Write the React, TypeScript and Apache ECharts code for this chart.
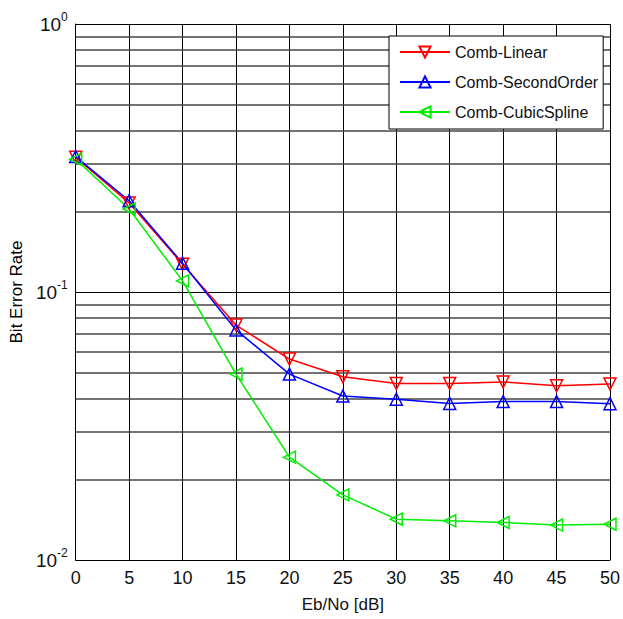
import React, { useEffect, useRef } from "react";
import * as echarts from "echarts";

const ebNo = [0, 5, 10, 15, 20, 25, 30, 35, 40, 45, 50];
const combLinear = [0.318, 0.215, 0.127, 0.0753, 0.0562, 0.0483, 0.0456, 0.0456, 0.0462, 0.0447, 0.0454];
const combSecondOrder = [0.32, 0.219, 0.128, 0.0722, 0.0494, 0.0409, 0.0398, 0.0384, 0.039, 0.039, 0.0383];
const combCubicSpline = [0.313, 0.204, 0.11, 0.0494, 0.0242, 0.0175, 0.0142, 0.014, 0.0138, 0.0135, 0.0136];
const minorGrid = [0.02, 0.03, 0.04, 0.05, 0.06, 0.07, 0.08, 0.09, 0.2, 0.3, 0.4, 0.5, 0.6, 0.7, 0.8, 0.9];

const FONT = "'Liberation Sans', Arial, sans-serif";

export default function App() {
  const ref = useRef<HTMLDivElement>(null);
  useEffect(() => {
    if (!ref.current) return;
    const chart = echarts.init(ref.current, null, { renderer: "svg" });
    const mk = (name: string, values: number[], color: string, rot: number) => ({
      name,
      type: "line",
      z: 5,
      data: ebNo.map((x, i) => [x, values[i]]),
      symbol: "triangle",
      symbolSize: 12,
      symbolRotate: rot,
      showAllSymbol: true,
      lineStyle: { color, width: 1.5 },
      itemStyle: { color: "rgba(255,255,255,0)", borderColor: color, borderWidth: 1.5 },
      emphasis: { disabled: true },
    });
    chart.setOption({
      animation: false,
      backgroundColor: "#fff",
      textStyle: { fontFamily: FONT },
      grid: { left: 72, right: 12, top: 24, bottom: 59 },
      legend: {
        z: 20,
        data: ["Comb-Linear", "Comb-SecondOrder", "Comb-CubicSpline"],
        orient: "vertical",
        left: 389,
        top: 36,
        backgroundColor: "#fff",
        borderColor: "#000",
        borderWidth: 1,
        borderRadius: 0,
        padding: [8, 5, 9, 10],
        itemWidth: 50,
        itemHeight: 14,
        itemGap: 14,
        textStyle: { fontFamily: FONT, fontSize: 16, lineHeight: 16, color: "#111" },
      },
      xAxis: {
        type: "value",
        min: 0,
        max: 50,
        interval: 5,
        name: "Eb/No [dB]",
        nameLocation: "middle",
        nameGap: 36,
        nameTextStyle: { fontFamily: FONT, fontSize: 17, color: "#111" },
        axisLine: { lineStyle: { color: "#000", width: 1 } },
        axisTick: { show: false },
        axisLabel: { fontFamily: FONT, fontSize: 18, color: "#111", margin: 9 },
        splitLine: { show: true, lineStyle: { color: "#000", width: 1 } },
      },
      yAxis: {
        type: "log",
        logBase: 10,
        min: 0.01,
        max: 1,
        name: "Bit Error Rate",
        nameLocation: "middle",
        nameGap: 46,
        nameTextStyle: { fontFamily: FONT, fontSize: 17, color: "#000" },
        axisLine: { lineStyle: { color: "#000", width: 1 } },
        axisTick: { show: false },
        axisLabel: {
          margin: 8,
          formatter: (v: number) => `{b|10}{s|${Math.round(Math.log10(v))}}`,
          rich: {
            b: { fontFamily: FONT, fontSize: 19, color: "#111" },
            s: { fontFamily: FONT, fontSize: 12, color: "#111", padding: [0, 0, 14, 0] },
          },
        },
        splitLine: { show: true, lineStyle: { color: "#000", width: 1 } },
      },
      series: [
        {
          name: "grid",
          type: "line",
          z: 1,
          data: [],
          silent: true,
          markLine: {
            silent: true,
            z: 1,
            symbol: ["none", "none"],
            label: { show: false },
            lineStyle: { color: "#444", type: "solid", width: 1.5 },
            emphasis: { disabled: true },
            data: minorGrid.map((v) => ({ yAxis: v })),
          },
        },
        mk("Comb-Linear", combLinear, "#ff0000", 180),
        mk("Comb-SecondOrder", combSecondOrder, "#0000ff", 0),
        mk("Comb-CubicSpline", combCubicSpline, "#00ee00", 90),
      ],
    });
    return () => chart.dispose();
  }, []);
  return (
    <div
      ref={ref}
      style={{ position: "fixed", left: 0, top: 0, width: 623, height: 619 }}
    />
  );
}
